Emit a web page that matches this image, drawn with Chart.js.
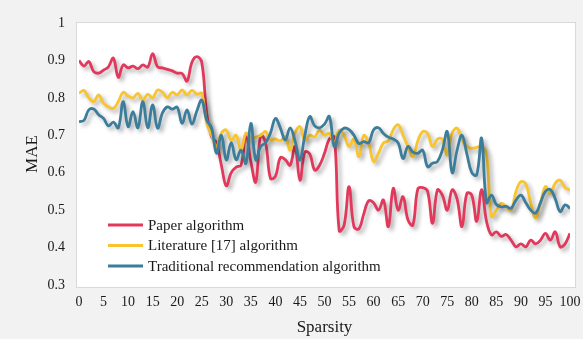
<!DOCTYPE html>
<html>
<head>
<meta charset="utf-8">
<script src="https://cdn.jsdelivr.net/npm/chart.js@4.4.0/dist/chart.umd.min.js"></script>
<style>
  html, body { margin: 0; padding: 0; background: #f2f2f2; }
  #wrap { width: 583px; height: 339px; }
</style>
</head>
<body>
<div id="wrap"><canvas id="maeChart" width="583" height="339"></canvas></div>
<script>
// sparsity (x) and MAE of each algorithm
const sparsity = [0, 1, 2, 3, 4, 5, 6, 7, 8, 9, 10, 11, 12, 13, 14, 15, 16, 17, 18, 19, 20,
  21, 22, 23, 24, 25, 26, 27, 28, 29, 30, 31, 32, 33, 34, 35, 36, 37, 38, 39, 40,
  41, 42, 43, 44, 45, 46, 47, 48, 49, 50, 51, 52, 53, 54, 55, 56, 57, 58, 59, 60,
  61, 62, 63, 64, 65, 66, 67, 68, 69, 70, 71, 72, 73, 74, 75, 76, 77, 78, 79, 80,
  81, 82, 83, 84, 85, 86, 87, 88, 89, 90, 91, 92, 93, 94, 95, 96, 97, 98, 99, 100];

const paperAlgorithm = [0.90, 0.885, 0.897, 0.87, 0.866, 0.874, 0.883, 0.906, 0.855, 0.888,
  0.88, 0.885, 0.878, 0.888, 0.882, 0.918, 0.883, 0.88, 0.876, 0.872,
  0.866, 0.865, 0.845, 0.895, 0.91, 0.895, 0.76, 0.696, 0.68, 0.62,
  0.565, 0.60, 0.615, 0.62, 0.70, 0.63, 0.575, 0.70, 0.68, 0.585,
  0.59, 0.64, 0.635, 0.62, 0.67, 0.58, 0.655, 0.65, 0.607, 0.62,
  0.652, 0.69, 0.695, 0.445, 0.46, 0.563, 0.456, 0.45, 0.49, 0.525,
  0.52, 0.50, 0.527, 0.456, 0.558, 0.50, 0.536, 0.474, 0.46, 0.556,
  0.56, 0.55, 0.465, 0.554, 0.54, 0.50, 0.554, 0.53, 0.456, 0.545,
  0.54, 0.47, 0.555, 0.47, 0.434, 0.442, 0.43, 0.435, 0.42, 0.402,
  0.41, 0.402, 0.42, 0.41, 0.42, 0.438, 0.42, 0.442, 0.402, 0.41, 0.438];

const literatureAlgorithm = [0.812, 0.82, 0.80, 0.79, 0.808, 0.785, 0.776, 0.772, 0.79, 0.815,
  0.805, 0.80, 0.812, 0.794, 0.81, 0.80, 0.821, 0.815, 0.80, 0.815,
  0.808, 0.821, 0.808, 0.82, 0.81, 0.812, 0.733, 0.70, 0.67, 0.706,
  0.714, 0.687, 0.70, 0.66, 0.706, 0.69, 0.695, 0.70, 0.71, 0.687,
  0.69, 0.685, 0.696, 0.66, 0.706, 0.723, 0.687, 0.70, 0.696, 0.714,
  0.70, 0.705, 0.68, 0.714, 0.70, 0.67, 0.69, 0.643, 0.70, 0.678,
  0.63, 0.652, 0.68, 0.685, 0.715, 0.728, 0.70, 0.67, 0.643, 0.685,
  0.71, 0.705, 0.67, 0.69, 0.69, 0.647, 0.706, 0.719, 0.69, 0.67,
  0.665, 0.668, 0.67, 0.65, 0.483, 0.50, 0.518, 0.51, 0.50, 0.55,
  0.576, 0.57, 0.52, 0.479, 0.52, 0.563, 0.545, 0.572, 0.58, 0.56, 0.554];

const traditionalAlgorithm = [0.736, 0.74, 0.768, 0.77, 0.755, 0.745, 0.725, 0.735, 0.72, 0.79,
  0.723, 0.763, 0.72, 0.79, 0.72, 0.781, 0.719, 0.76, 0.776, 0.77,
  0.775, 0.732, 0.768, 0.73, 0.765, 0.794, 0.741, 0.72, 0.652, 0.70,
  0.634, 0.68, 0.635, 0.66, 0.625, 0.732, 0.634, 0.67, 0.68, 0.706,
  0.745, 0.72, 0.687, 0.72, 0.685, 0.634, 0.70, 0.75, 0.725, 0.72,
  0.73, 0.75, 0.67, 0.706, 0.719, 0.715, 0.70, 0.678, 0.683, 0.68,
  0.715, 0.72, 0.705, 0.695, 0.69, 0.68, 0.638, 0.67, 0.655, 0.652,
  0.66, 0.616, 0.625, 0.63, 0.66, 0.71, 0.60, 0.66, 0.70, 0.65,
  0.60, 0.594, 0.692, 0.52, 0.54, 0.515, 0.509, 0.51, 0.505, 0.527,
  0.54, 0.52, 0.50, 0.492, 0.52, 0.55, 0.555, 0.53, 0.496, 0.514, 0.505];

const seriesNames = ['Paper algorithm', 'Literature [17] algorithm', 'Traditional recommendation algorithm'];
const seriesColors = ['#e2385c', '#f8c531', '#3b7d9a'];

// axis ranges / tick steps
const yMin = 0.3, yMax = 1, yStep = 0.1;
const xMin = 0, xMax = 100, xStep = 5;

const serif = 'Liberation Serif, Times New Roman, serif';

// white plot box behind the lines
const plotBox = {
    id: 'plotBox',
    beforeDraw(chart) {
        const {ctx, chartArea: a} = chart;
        ctx.save();
        ctx.fillStyle = '#ffffff';
        ctx.fillRect(a.left - 2, a.top, a.right - a.left + 7, a.bottom - a.top + 2);
        ctx.strokeStyle = '#d9d9d9';
        ctx.lineWidth = 1;
        ctx.strokeRect(a.left - 2.5, a.top - 0.5, a.right - a.left + 8, a.bottom - a.top + 3);
        ctx.restore();
    }
};

// soft drop shadow under each line
const lineShadow = {
    id: 'lineShadow',
    beforeDatasetDraw(chart) {
        const ctx = chart.ctx;
        ctx.save();
        ctx.shadowColor = 'rgba(0, 0, 0, 0.32)';
        ctx.shadowBlur = 4;
        ctx.shadowOffsetX = 3;
        ctx.shadowOffsetY = 3;
    },
    afterDatasetDraw(chart) {
        chart.ctx.restore();
    }
};

// legend sitting inside the plot, lower left
const innerLegend = {
    id: 'innerLegend',
    afterDraw(chart) {
        const {ctx, chartArea: a} = chart;
        const x0 = a.left + 29;
        let y = a.bottom - 60;
        ctx.save();
        ctx.font = '15px ' + serif;
        ctx.textBaseline = 'middle';
        chart.data.datasets.forEach(ds => {
            ctx.strokeStyle = ds.borderColor;
            ctx.lineWidth = 3;
            ctx.beginPath();
            ctx.moveTo(x0, y);
            ctx.lineTo(x0 + 35, y);
            ctx.stroke();
            ctx.fillStyle = '#1a1a1a';
            ctx.fillText(ds.label, x0 + 40, y + 1);
            y += 20.5;
        });
        ctx.restore();
    }
};

const datasets = [paperAlgorithm, literatureAlgorithm, traditionalAlgorithm].map((values, i) => ({
    label: seriesNames[i],
    data: values,
    borderColor: seriesColors[i],
    backgroundColor: seriesColors[i],
    borderWidth: 2.8,
    pointRadius: 0,
    tension: 0.4,
    fill: false,
    order: 3 - i
}));

new Chart(document.getElementById('maeChart').getContext('2d'), {
    type: 'line',
    data: {
        labels: sparsity,
        datasets: datasets
    },
    options: {
        responsive: false,
        animation: false,
        layout: {
            padding: {top: 23, right: 13, left: 0, bottom: 0}
        },
        plugins: {
            legend: {display: false},
            tooltip: {enabled: false}
        },
        scales: {
            x: {
                type: 'linear',
                min: xMin,
                max: xMax,
                // invisible tick marks push the labels down without widening the side padding
                grid: {display: true, drawOnChartArea: false, drawTicks: true, tickLength: 9, color: 'rgba(0,0,0,0)'},
                border: {display: false},
                ticks: {
                    stepSize: xStep,
                    padding: 0,
                    maxRotation: 0,
                    autoSkip: false,
                    color: '#1a1a1a',
                    font: {family: serif, size: 14}
                },
                title: {
                    display: true,
                    text: 'Sparsity',
                    color: '#1a1a1a',
                    font: {family: serif, size: 17},
                    padding: {top: 1, bottom: 1}
                },
                afterFit(scale) { scale.height = 54; }
            },
            y: {
                min: yMin,
                max: yMax,
                grid: {display: false, drawTicks: false},
                border: {display: false},
                ticks: {
                    stepSize: yStep,
                    padding: 14,
                    color: '#1a1a1a',
                    font: {family: serif, size: 14},
                    callback: v => String(+v.toFixed(1))
                },
                title: {
                    display: true,
                    text: 'MAE',
                    color: '#1a1a1a',
                    font: {family: serif, size: 17},
                    padding: {top: 22, bottom: 0}
                },
                afterFit(scale) { scale.width = 79; }
            }
        }
    },
    plugins: [plotBox, lineShadow, innerLegend]
});
</script>
</body>
</html>
